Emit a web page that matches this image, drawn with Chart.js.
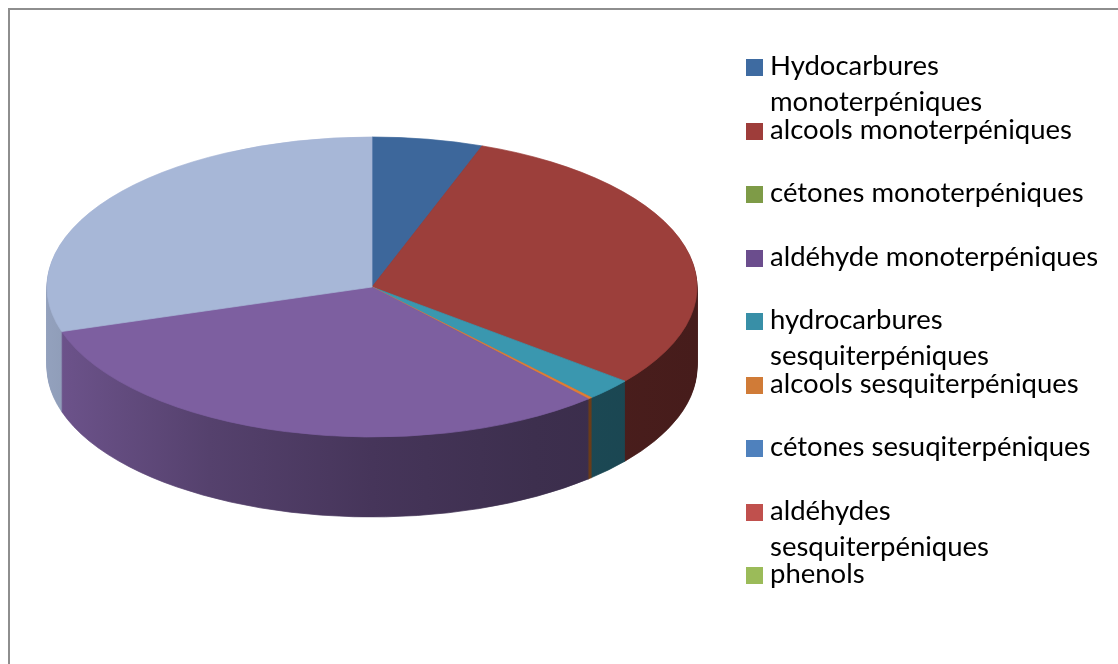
<!DOCTYPE html>
<html>
<head>
<meta charset="utf-8">
<script src="https://cdn.jsdelivr.net/npm/chart.js@4.4.0/dist/chart.umd.min.js"></script>
<style>
    html, body { margin: 0; padding: 0; background: #fff; }
    #wrap { position: relative; width: 1118px; height: 664px; overflow: hidden; }
    #frame { position: absolute; left: 8px; top: 8px; width: 1200px; height: 800px; border-top: 2px solid #8e8e8e; border-left: 2px solid #8e8e8e; }
    #pie { position: absolute; left: 0; top: 0; }
    #legend { position: absolute; left: 746px; top: 47px; font-family: Lato, sans-serif; font-size: 27.5px; color: #000; }
    .item { position: relative; height: 63.5px; padding-left: 24px; line-height: 36px; width: 338px; }
    .item i { position: absolute; left: 0; top: 12px; width: 17px; height: 17px; }
</style>
</head>
<body>
<div id="wrap">
    <div id="frame"></div>
    <canvas id="pie" width="1118" height="664"></canvas>
    <div id="legend"></div>
</div>
<script>
// legend order (as in the sheet)
const categories = [
    'Hydocarbures monoterpéniques',
    'alcools monoterpéniques',
    'cétones monoterpéniques',
    'aldéhyde monoterpéniques',
    'hydrocarbures sesquiterpéniques',
    'alcools sesquiterpéniques',
    'cétones sesuqiterpéniques',
    'aldéhydes sesquiterpéniques',
    'phenols'
];
const shares = [5.5, 30.3, 0, 31.8, 2.4, 0.2, 0, 0, 0];
const otherShare = 29.8; // pale slice, no legend entry

// clockwise order of the slices on the pie, starting at 12 o'clock
const drawOrder = [0, 1, 2, 4, 5, 6, 7, 8, 3];

const sliceColors = ['#3d679b', '#9c3f3b', '#7e9b47', '#7d5fa0', '#3a97af', '#e07d34', '#4f81bd', '#c0504d', '#9bbb59'];
const legendColors = ['#3e6ba1', '#9e3d3a', '#7e9b47', '#6b4d8d', '#388fa7', '#d07b37', '#4f81bd', '#c0504d', '#9bbb59'];
const otherColor = '#a7b7d7';

const tilt = 0.4615;     // vertical squash of the disc
const centerY = 287;     // screen y of the top face centre
const depth = 80;        // thickness of the disc in px

function shade(hex, f) {
    const n = parseInt(hex.slice(1), 16);
    const r = Math.round(((n >> 16) & 255) * f);
    const g = Math.round(((n >> 8) & 255) * f);
    const b = Math.round((n & 255) * f);
    return `rgb(${r},${g},${b})`;
}

// fake 3d: squash the pie and stack darker copies under it
const pie3d = {
    id: 'pie3d',
    beforeDatasetDraw(chart, args) {
        const ctx = chart.ctx;
        const arcs = args.meta.data;
        const first = arcs[0];
        const cx = first.x, cy = first.y, R = first.outerRadius;
        const place = (dy) => {
            ctx.translate(0, centerY + dy);
            ctx.scale(1, tilt);
            ctx.translate(0, -cy);
        };

        const fills = arcs.map(arc => {
            const base = arc.options.backgroundColor;
            const g = ctx.createLinearGradient(cx - R, 0, cx + R, 0);
            g.addColorStop(0, shade(base, 0.88));
            g.addColorStop(0.25, shade(base, 0.68));
            g.addColorStop(0.5, shade(base, 0.56));
            g.addColorStop(0.75, shade(base, 0.49));
            g.addColorStop(1, shade(base, 0.45));
            return g;
        });

        for (let d = depth; d > 0; d--) {
            ctx.save();
            place(d);
            arcs.forEach((arc, i) => {
                if (arc.endAngle - arc.startAngle <= 0) return;
                ctx.beginPath();
                ctx.moveTo(cx, cy);
                ctx.arc(cx, cy, R, arc.startAngle, arc.endAngle);
                ctx.closePath();
                ctx.fillStyle = fills[i];
                ctx.strokeStyle = fills[i];
                ctx.lineWidth = 1;
                ctx.fill();
                ctx.stroke();
            });
            ctx.restore();
        }

        ctx.save();
        place(0);
    },
    afterDatasetDraw(chart) {
        chart.ctx.restore();
    }
};

const labels = drawOrder.map(i => categories[i]).concat(['']);
const values = drawOrder.map(i => shares[i]).concat([otherShare]);
const colors = drawOrder.map(i => sliceColors[i]).concat([otherColor]);

new Chart(document.getElementById('pie'), {
    type: 'pie',
    data: {
        labels: labels,
        datasets: [{
            data: values,
            backgroundColor: colors,
            borderColor: colors,
            borderWidth: 1,
            radius: 325,
            clip: false
        }]
    },
    options: {
        responsive: false,
        animation: false,
        devicePixelRatio: 1,
        layout: { padding: { left: 47, right: 421, top: 0, bottom: 0 } },
        plugins: {
            legend: { display: false },
            tooltip: { enabled: false }
        }
    },
    plugins: [pie3d]
});

// legend, in sheet order
const legend = document.getElementById('legend');
categories.forEach((name, i) => {
    const item = document.createElement('div');
    item.className = 'item';
    const box = document.createElement('i');
    box.style.background = legendColors[i];
    item.appendChild(box);
    item.appendChild(document.createTextNode(name));
    legend.appendChild(item);
});
</script>
</body>
</html>
